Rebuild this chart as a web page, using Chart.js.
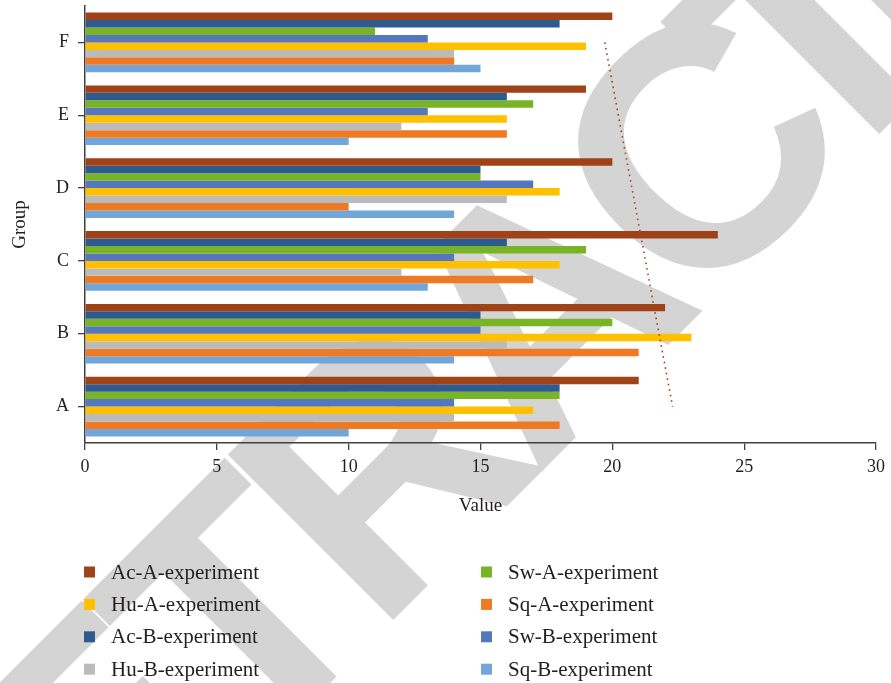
<!DOCTYPE html>
<html>
<head>
<meta charset="utf-8">
<script src="https://cdn.jsdelivr.net/npm/chart.js@4.4.1/dist/chart.umd.min.js"></script>
<style>
  html, body { margin: 0; padding: 0; background: #ffffff; }
  #wrap { width: 891px; height: 683px; position: relative; }
</style>
</head>
<body>
<div id="wrap"><canvas id="chart" width="891" height="683"></canvas></div>
<script>
// Groups, bottom (A) to top (F)
const groups = ['A', 'B', 'C', 'D', 'E', 'F'];

// Series values per group (A..F)
const acA = [21, 22, 24, 20, 19, 20];
const acB = [18, 15, 16, 15, 16, 18];
const swA = [18, 20, 19, 15, 17, 11];
const swB = [14, 15, 14, 17, 13, 13];
const huA = [17, 23, 18, 18, 16, 19];
const huB = [14, 16, 12, 16, 12, 14];
const sqA = [18, 21, 17, 10, 16, 14];
const sqB = [10, 14, 13, 14, 10, 15];

const seriesNames = ['Ac-A-experiment', 'Ac-B-experiment', 'Sw-A-experiment', 'Sw-B-experiment',
                     'Hu-A-experiment', 'Hu-B-experiment', 'Sq-A-experiment', 'Sq-B-experiment'];
const seriesValues = [acA, acB, swA, swB, huA, huB, sqA, sqB];
const seriesColors = ['#9F4217', '#2E5B8F', '#79B427', '#5477BD',
                      '#FFC000', '#BBBBBB', '#EE7A24', '#72A6D8'];

// Legend is laid out in two columns, read down each column
const legendOrder = [0, 4, 1, 5, 2, 6, 3, 7];

const xTicks = [0, 5, 10, 15, 20, 25, 30];

// Linear trend of the Ac-A series across the groups
function linearTrend(values) {
  const n = values.length;
  const xs = values.map((_, i) => i + 1);
  const mx = xs.reduce((a, b) => a + b, 0) / n;
  const my = values.reduce((a, b) => a + b, 0) / n;
  let sxy = 0, sxx = 0;
  for (let i = 0; i < n; i++) { sxy += (xs[i] - mx) * (values[i] - my); sxx += (xs[i] - mx) ** 2; }
  const slope = sxy / sxx;
  return xs.map(x => my + slope * (x - mx));
}
const acATrend = linearTrend(acA);

// Category axis runs top to bottom, so feed the groups from F down to A
const rev = arr => arr.slice().reverse();

const datasets = seriesNames.map((name, i) => ({
  type: 'bar',
  label: name,
  data: rev(seriesValues[i]),
  backgroundColor: seriesColors[i],
  borderWidth: 0,
  categoryPercentage: 0.82,
  barPercentage: 1.0,
  order: 2
}));
datasets.push({
  type: 'line',
  label: 'Ac-A trend',
  data: rev(acATrend),
  indexAxis: 'y',
  borderColor: '#A8471E',
  borderWidth: 1.6,
  borderDash: [1.6, 4],
  pointRadius: 0,
  fill: false,
  tension: 0,
  order: 1
});

const serif = '"Liberation Serif", "Times New Roman", serif';
const textColor = '#231F20';
const axisColor = '#404040';

// Diagonal stamp behind the plot
const stampText = 'RETRACTED';
const stampPlugin = {
  id: 'stamp',
  beforeDraw(chart) {
    const ctx = chart.ctx;
    ctx.save();
    ctx.fillStyle = '#ffffff';
    ctx.fillRect(0, 0, chart.width, chart.height);
    const S = 340;
    ctx.translate(694, 147);
    ctx.rotate(-Math.PI / 4);
    ctx.font = 'bold ' + S + 'px "Liberation Sans", Arial, sans-serif';
    ctx.fillStyle = '#D4D4D4';
    ctx.textBaseline = 'alphabetic';
    const letters = [...stampText];
    const ws = letters.map(ch => ctx.measureText(ch).width);
    const spBefore = -22, spAfter = -62;
    const anchor = 5; // the "C"
    let x = -ws[anchor] / 2;
    for (let i = anchor - 1; i >= 0; i--) x -= ws[i] + spBefore;
    const yBase = 0.358 * S;
    for (let i = 0; i < letters.length; i++) {
      ctx.fillText(letters[i], x, yBase);
      x += ws[i] + (i >= anchor ? spAfter : spBefore);
    }
    ctx.restore();
  }
};

// Two-column legend under the axis
const legendPlugin = {
  id: 'colLegend',
  afterDraw(chart) {
    const ctx = chart.ctx;
    ctx.save();
    ctx.font = '21px ' + serif;
    ctx.textBaseline = 'middle';
    ctx.fillStyle = textColor;
    const colX = [84, 481];
    const rowY0 = 572, rowStep = 32.4;
    legendOrder.forEach((si, k) => {
      const col = Math.floor(k / 4), row = k % 4;
      const x = colX[col], y = rowY0 + row * rowStep;
      ctx.fillStyle = seriesColors[si];
      ctx.fillRect(x, y - 5.5, 11, 11);
      ctx.fillStyle = textColor;
      ctx.fillText(seriesNames[si], x + 27, y + 1);
    });
    ctx.restore();
  }
};

new Chart(document.getElementById('chart'), {
  data: { labels: rev(groups), datasets },
  options: {
    indexAxis: 'y',
    responsive: false,
    animation: false,
    layout: { padding: { top: 6, right: 12, bottom: 166, left: 0 } },
    plugins: {
      legend: { display: false },
      tooltip: { enabled: false }
    },
    scales: {
      x: {
        type: 'linear',
        min: 0, max: 30,
        afterBuildTicks: s => { s.ticks = xTicks.map(v => ({ value: v })); },
        afterFit: s => { s.height = 74; },
        grid: { drawOnChartArea: false, drawTicks: true, tickLength: 7, color: axisColor, lineWidth: 1.3 },
        border: { display: true, color: axisColor, width: 1.5 },
        ticks: { color: textColor, font: { family: serif, size: 18 }, padding: 6 },
        title: { display: true, text: 'Value', color: textColor, font: { family: serif, size: 19 }, padding: { top: 0, bottom: 0 } }
      },
      y: {
        type: 'category',
        afterFit: s => { s.width = 85; s.paddingTop = 0; s.paddingBottom = 0; },
        grid: { offset: false, drawOnChartArea: false, drawTicks: true, tickLength: 7, color: axisColor, lineWidth: 1.3 },
        border: { display: true, color: axisColor, width: 1.5 },
        ticks: { color: textColor, font: { family: serif, size: 18 }, padding: 9 },
        title: { display: true, text: 'Group', color: textColor, font: { family: serif, size: 19 }, padding: { top: 9, bottom: 0 } }
      }
    }
  },
  plugins: [stampPlugin, legendPlugin]
});
</script>
</body>
</html>
